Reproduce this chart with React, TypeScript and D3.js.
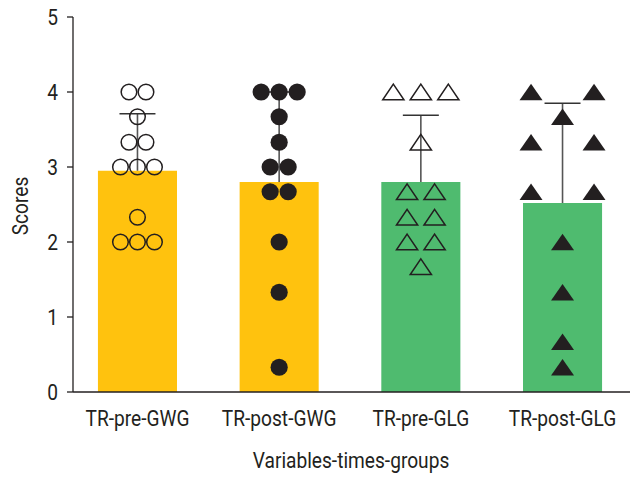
import React from "react";
import * as d3 from "d3";

// categories and bar values
const categories = ["TR-pre-GWG", "TR-post-GWG", "TR-pre-GLG", "TR-post-GLG"];
const means = [2.95, 2.8, 2.8, 2.52];
const upperSD = [3.71, 4.0, 3.69, 3.85];

// individual scores per group
const preGWG = [4, 4, 3.67, 3.33, 3.33, 3, 3, 3, 2.33, 2, 2, 2];
const postGWG = [4, 4, 4, 3.67, 3.33, 3, 3, 2.67, 2.67, 2, 1.33, 0.33];
const preGLG = [4, 4, 4, 3.33, 2.67, 2.67, 2.33, 2.33, 2, 2, 1.67];
const postGLG = [4, 4, 3.67, 3.33, 3.33, 2.67, 2.67, 2, 1.33, 0.67, 0.33];

const yTicks = [0, 1, 2, 3, 4, 5];

const series = [preGWG, postGWG, preGLG, postGLG];
const barColors = ["#FFC20E", "#FFC20E", "#4FBB6F", "#4FBB6F"];
const markers = ["openCircle", "circle", "openTriangle", "triangle"];
const spreads = [17, 18, 27.5, 63];

const W = 642;
const H = 480;
const left = 73;
const right = 627;
const top = 17;
const bottom = 392;
const ink = "#231f20";
const font = "Roboto, 'Noto Sans', sans-serif";
const squeeze = 0.87; // condensed look

const Label: React.FC<{
  x: number;
  y: number;
  anchor?: string;
  rotate?: number;
  dy?: string;
  children: React.ReactNode;
}> = ({ x, y, anchor = "middle", rotate = 0, dy, children }) => (
  <text
    transform={`translate(${x},${y}) rotate(${rotate}) scale(${squeeze},1)`}
    textAnchor={anchor}
    dy={dy}
    fontSize={22}
    fill={ink}
  >
    {children}
  </text>
);

const Marker: React.FC<{ kind: string; x: number; y: number }> = ({ kind, x, y }) => {
  if (kind === "openCircle")
    return <circle cx={x} cy={y} r={7.8} fill="none" stroke={ink} strokeWidth={1.5} />;
  if (kind === "circle") return <circle cx={x} cy={y} r={8.6} fill={ink} />;
  if (kind === "openTriangle")
    return (
      <path
        transform={`translate(${x},${y})`}
        d="M0,-7.8L10.6,7.8L-10.6,7.8Z"
        fill="none"
        stroke={ink}
        strokeWidth={1.5}
      />
    );
  return <path transform={`translate(${x},${y})`} d="M0,-8.2L11.5,8.2L-11.5,8.2Z" fill={ink} />;
};

export default function App() {
  const x = d3
    .scaleBand<string>()
    .domain(categories)
    .range([left, right])
    .paddingInner(0.442)
    .paddingOuter(0.176);
  const y = d3.scaleLinear().domain([0, 5]).range([bottom, top]);
  const bw = x.bandwidth();

  // spread equal values side by side, like a scatter dot plot
  const placed = series.map((vals, i) => {
    const groups = d3.group(vals, (v) => v);
    const out: { v: number; dx: number }[] = [];
    groups.forEach((g, v) => {
      g.forEach((_, j) => out.push({ v, dx: (j - (g.length - 1) / 2) * spreads[i] }));
    });
    return out;
  });

  return (
    <svg
      width={W}
      height={H}
      style={{ position: "absolute", left: 0, top: 0, background: "#fff" }}
      fontFamily={font}
    >
      {/* bars */}
      {categories.map((c, i) => (
        <rect
          key={c}
          x={x(c)}
          y={y(means[i])}
          width={bw}
          height={y(0) - y(means[i])}
          fill={barColors[i]}
        />
      ))}

      {/* error bars (upper only) */}
      {categories.map((c, i) => {
        const cx = (x(c) as number) + bw / 2;
        return (
          <g key={c}>
            <line x1={cx} x2={cx} y1={y(means[i])} y2={y(upperSD[i])} stroke="#555" strokeWidth={1.6} />
            <line x1={cx - 18} x2={cx + 18} y1={y(upperSD[i])} y2={y(upperSD[i])} stroke="#333" strokeWidth={1.6} />
          </g>
        );
      })}

      {/* individual points */}
      {categories.map((c, i) => {
        const cx = (x(c) as number) + bw / 2;
        return (
          <g key={c}>
            {placed[i].map((p, k) => (
              <Marker key={k} kind={markers[i]} x={cx + p.dx} y={y(p.v)} />
            ))}
          </g>
        );
      })}

      {/* axes */}
      <line x1={left} x2={left} y1={top} y2={bottom} stroke={ink} strokeWidth={1.3} />
      <line x1={left} x2={630} y1={bottom} y2={bottom} stroke={ink} strokeWidth={1.3} />
      {yTicks.map((t) => (
        <g key={t}>
          <line x1={left - 6} x2={left} y1={y(t)} y2={y(t)} stroke={ink} strokeWidth={1.3} />
          <Label x={58} y={y(t)} anchor="end" dy="0.36em">
            {t}
          </Label>
        </g>
      ))}
      {categories.map((c) => (
        <Label key={c} x={(x(c) as number) + bw / 2} y={425.5}>
          {c}
        </Label>
      ))}
      <Label x={351} y={468}>
        Variables-times-groups
      </Label>
      <Label x={28} y={206} rotate={-90}>
        Scores
      </Label>
    </svg>
  );
}
